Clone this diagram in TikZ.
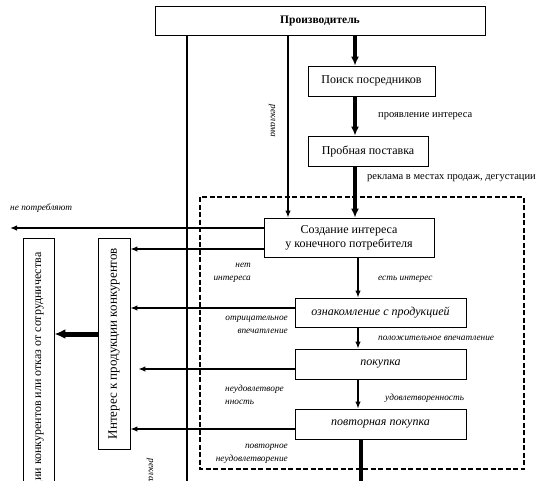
\documentclass[tikz,border=0pt]{standalone}
\usepackage{fontspec}
\usepackage{graphicx}
\setmainfont{Liberation Serif}
\usetikzlibrary{arrows.meta, positioning}

\begin{document}
\begin{tikzpicture}[
      x=1pt, y=-1pt, >=Latex,
      box/.style={draw, rectangle, line width=0.8pt, inner sep=0pt,
                  align=center, font=\fontsize{12}{14}\selectfont},
      ibox/.style={box, font=\fontsize{12}{14}\selectfont\itshape},
      vtext/.style={box, font=\fontsize{13}{15}\selectfont},
      arr/.style={->, line width=1.3pt, >={Latex[length=7pt,width=5.5pt]}},
      bigarr/.style={->, line width=3.5pt, >={Latex[length=9pt,width=8pt]}},
      fatarr/.style={->, line width=5pt, >={Latex[length=11pt,width=10pt]}},
      vline/.style={line width=1.2pt},
      frame/.style={line width=1.2pt, dash pattern=on 5pt off 2.5pt},
      lbl/.style={inner sep=0pt, font=\fontsize{10.5}{12.5}\selectfont},
      ilbl/.style={inner sep=0pt, font=\fontsize{9.3}{12.5}\selectfont\itshape}
    ]
      \useasboundingbox (0,0) rectangle (551,480);

      % main chain
      \node[box, font=\fontsize{11.5}{14}\selectfont\bfseries,
            minimum width=330pt, minimum height=29pt] (prod) at (320,20.5) {Производитель};
      \node[box, minimum width=127pt, minimum height=30pt] (poisk) at (371.5,81) {Поиск посредников};
      \node[box, minimum width=120pt, minimum height=30pt] (proba) at (368,151) {Пробная поставка};
      \node[box, minimum width=170pt, minimum height=39pt] (sozd) at (349,237.5) {Создание интереса\\у конечного потребителя};
      \node[ibox, minimum width=171pt, minimum height=29pt] (oznak) at (380.5,312.5) {ознакомление с продукцией};
      \node[ibox, minimum width=171pt, minimum height=30pt] (pokup) at (380.5,364) {покупка};
      \node[ibox, minimum width=171pt, minimum height=30pt] (povt) at (380.5,424) {повторная покупка};

      % left side
      \node[vtext, minimum width=32pt, minimum height=211pt] (inter) at (114,343.5)
           {\rotatebox{90}{Интерес к продукции конкурентов}};
      \node[box, minimum width=31pt, minimum height=354pt] (otkaz) at (38.5,415)
           {\rotatebox{90}{Переход к продукции конкурентов или отказ от сотрудничества}};

      % dashed zone
      \draw[frame] (200,197) rectangle (524,469);

      % vertical connectors
      \coordinate (colA) at (355,0);
      \draw[bigarr] (prod.south -| colA) -- (poisk.north -| colA);
      \draw[bigarr] (poisk.south -| colA) -- (proba.north -| colA);
      \draw[bigarr] (proba.south -| colA) -- (sozd.north -| colA);
      \coordinate (colB) at (358,0);
      \draw[arr] (sozd.south -| colB) -- (oznak.north -| colB);
      \draw[arr] (oznak.south -| colB) -- (pokup.north -| colB);
      \draw[arr] (pokup.south -| colB) -- (povt.north -| colB);
      \coordinate (colC) at (361,490);
      \draw[line width=4pt] (povt.south -| colC) -- (colC);
      \coordinate (l1) at (187,490);
      \draw[vline] (prod.south -| l1) -- (l1);
      \coordinate (l2) at (288,0);
      \draw[arr] (prod.south -| l2) -- (sozd.north -| l2);

      % horizontal connectors
      \coordinate (np) at (10,228);
      \coordinate (s1) at ([yshift=9.5pt]sozd.west);
      \draw[arr] (s1) -- (s1 -| np);
      \coordinate (s2) at ([yshift=-11.5pt]sozd.west);
      \draw[arr] (s2) -- (s2 -| inter.east);
      \coordinate (o1) at ([yshift=4.5pt]oznak.west);
      \draw[arr] (o1) -- (o1 -| inter.east);
      \coordinate (p1) at ([yshift=-5pt]pokup.west);
      \draw[arr, shorten >=8pt] (p1) -- (p1 -| inter.east);
      \coordinate (r1) at ([yshift=-5pt]povt.west);
      \draw[arr] (r1) -- (r1 -| inter.east);
      \coordinate (i1) at ([yshift=9.5pt]inter.west);
      \draw[fatarr] (i1) -- (i1 -| otkaz.east);

      % labels
      \node[lbl, anchor=west] (lproj) at (378,116) {проявление интереса};
      \node[ilbl, rotate=-90] (lrekl) at (272,121) {реклама};
      \node[lbl, anchor=west] (lmest) at (367,178) {реклама в местах продаж, дегустации};
      \node[ilbl, anchor=west] (lnepo) at (10,208) {не потребляют};
      \node[ilbl, anchor=east, align=right] (lnet) at (251,273) {нет\\интереса};
      \node[ilbl, anchor=west] (lest) at (378,279) {есть интерес};
      \node[ilbl, anchor=east, align=right] (lotr) at (288,325) {отрицательное\\впечатление};
      \node[ilbl, anchor=west] (lpol) at (378,338) {положительное впечатление};
      \node[ilbl, anchor=west, align=left] (lneud) at (225,395) {неудовлетворе\\нность};
      \node[ilbl, anchor=west] (lud) at (385,398) {удовлетворенность};
      \node[ilbl, anchor=east, align=right] (lpovt) at (288,454) {повторное\\неудовлетворение};
      \node[ilbl, rotate=-90] (lrekb) at (150,475) {реклама};
    \end{tikzpicture}
\end{document}
